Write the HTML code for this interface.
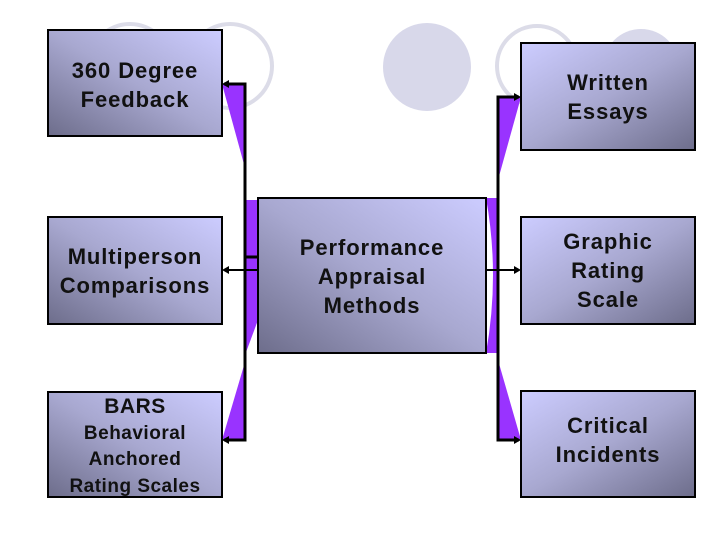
<!DOCTYPE html>
<html><head><style>
body{margin:0;width:720px;height:540px;background:#fff;position:relative;overflow:hidden;font-family:"Liberation Sans",sans-serif;}
.b{position:absolute;border:2px solid #000;box-sizing:border-box;display:flex;flex-direction:column;align-items:center;justify-content:center;text-align:center;font-weight:bold;font-size:22px;letter-spacing:0.9px;line-height:29px;color:#111;white-space:nowrap;}
.l{background:linear-gradient(to bottom left,#ccccff 0%,#a8a8d0 50%,#6e6e8c 100%);}
.r{background:linear-gradient(to bottom right,#ccccff 0%,#a8a8d0 50%,#6e6e8c 100%);}
svg{position:absolute;left:0;top:0;}
</style></head><body>
<svg width="720" height="540">
<circle cx="130" cy="66" r="42" fill="none" stroke="#dcdce8" stroke-width="4"/>
<circle cx="230" cy="66" r="42" fill="none" stroke="#dcdce8" stroke-width="4"/>
<circle cx="427" cy="67" r="44" fill="#d8d8ea"/>
<circle cx="537" cy="66" r="40" fill="none" stroke="#dcdce8" stroke-width="4"/>
<circle cx="641" cy="67" r="38" fill="#d8d8ea"/>
<polygon points="222,84 245,84 245,168" fill="#9933ff"/>
<polygon points="245,200 258,200 258,320 245,355" fill="#9933ff"/>
<polygon points="245,362 245,440 222,440" fill="#9933ff"/>
<polygon points="498,97 521,97 498,180" fill="#9933ff"/>
<path d="M486,198 Q500,275 486,353 L498,353 L498,198 Z" fill="#9933ff"/>
<polygon points="498,360 498,440 521,440" fill="#9933ff"/>
<g stroke="#000" stroke-width="3" fill="none">
<polyline points="224,84 245,84 245,440 224,440"/>
<line x1="245" y1="257" x2="258" y2="257"/>
<polyline points="519,97 498,97 498,440 519,440"/>
</g>
<g stroke="#000" stroke-width="2"><line x1="224" y1="270" x2="258" y2="270"/><line x1="486" y1="270" x2="519" y2="270"/></g>
<g fill="#000">
<polygon points="222,84 229,80 229,88"/><polygon points="222,270 229,266 229,274"/><polygon points="222,440 229,436 229,444"/>
<polygon points="521,97 514,93 514,101"/><polygon points="521,270 514,266 514,274"/><polygon points="521,440 514,436 514,444"/>
</g>
</svg>
<div class="b l" style="left:47px;top:29px;width:176px;height:108px;padding-top:3px">360 Degree<br>Feedback</div>
<div class="b l" style="left:47px;top:216px;width:176px;height:109px">Multiperson<br>Comparisons</div>
<div class="b l" style="left:47px;top:391px;width:176px;height:107px;font-size:19px;line-height:26.5px;justify-content:flex-start;padding-top:1px;letter-spacing:0.5px"><span style="font-size:21px">BARS</span><span>Behavioral<br>Anchored<br>Rating Scales</span></div>
<div class="b l" style="left:257px;top:197px;width:230px;height:157px;padding-top:1px">Performance<br>Appraisal<br>Methods</div>
<div class="b r" style="left:520px;top:42px;width:176px;height:109px">Written<br>Essays</div>
<div class="b r" style="left:520px;top:216px;width:176px;height:109px">Graphic<br>Rating<br>Scale</div>
<div class="b r" style="left:520px;top:390px;width:176px;height:108px;padding-bottom:8px">Critical<br>Incidents</div>
</body></html>
